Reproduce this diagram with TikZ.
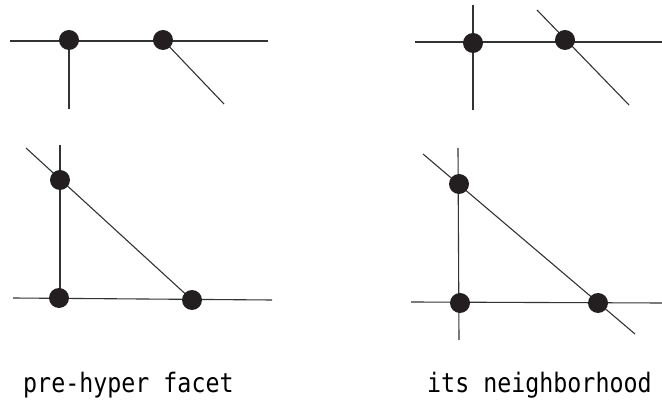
\documentclass[tikz,border=0pt]{standalone}
\usepackage{fontspec}
\newfontfamily\labelfont{DejaVu Sans Mono}
\definecolor{dotc}{HTML}{231F20}
\definecolor{linec}{HTML}{333333}
\tikzset{
  ln/.style={line width=1.1pt, draw=linec},
  dot/.style={circle, fill=dotc, inner sep=0pt, minimum size=20pt},
  lbl/.style={anchor=base west, inner sep=0pt, font=\labelfont\fontsize{23.3}{28}\selectfont}
}
\begin{document}
\begin{tikzpicture}[x=1pt,y=-1pt]
\useasboundingbox (0,0) rectangle (662,403);
% top-left
\coordinate (tlL) at (10,41); \coordinate (tlR) at (268,41);
\coordinate (tlA) at (69,40); \coordinate (tlB) at (163,40);
\coordinate (tlAd) at (69,109); \coordinate (tlBd) at (224,104);
\draw[ln] (tlL) -- (tlR);
\draw[ln] (tlA) -- (tlAd);
\draw[ln] (tlB) -- (tlBd);
\node[dot] (tla) at (tlA) {};
\node[dot] (tlb) at (tlB) {};
% top-right
\coordinate (trL) at (415,42); \coordinate (trR) at (662,42);
\coordinate (trA) at (473,43); \coordinate (trB) at (565,40);
\coordinate (trAu) at (473,5); \coordinate (trAd) at (473,110);
\coordinate (trBu) at (537,10); \coordinate (trBd) at (629,105);
\draw[ln] (trL) -- (trR);
\draw[ln] (trAu) -- (trAd);
\draw[ln] (trBu) -- (trBd);
\node[dot] (tra) at (trA) {};
\node[dot] (trb) at (trB) {};
% bottom-left
\coordinate (blVu) at (60,145); \coordinate (blVd) at (60,297);
\coordinate (blDu) at (26,148);
\coordinate (blHl) at (13,298); \coordinate (blHr) at (272,300);
\coordinate (blA) at (60,180); \coordinate (blB) at (59,298); \coordinate (blC) at (192,300);
\draw[ln] (blVu) -- (blVd);
\draw[ln] (blDu) -- (blC);
\draw[ln] (blHl) -- (blHr);
\node[dot] (bla) at (blA) {};
\node[dot] (blb) at (blB) {};
\node[dot] (blc) at (blC) {};
% bottom-right
\coordinate (brVu) at (458,148); \coordinate (brVd) at (459,340);
\coordinate (brDu) at (423,154); \coordinate (brDd) at (635,334);
\coordinate (brHl) at (411,302); \coordinate (brHr) at (662,303);
\coordinate (brA) at (459,184); \coordinate (brB) at (460,303); \coordinate (brC) at (598,303);
\draw[ln] (brVu) -- (brVd);
\draw[ln] (brDu) -- (brDd);
\draw[ln] (brHl) -- (brHr);
\node[dot] (bra) at (brA) {};
\node[dot] (brb) at (brB) {};
\node[dot] (brc) at (brC) {};
% labels
\node[lbl] (lab1) at (23,393) {\scalebox{1}[1.15]{pre-hyper facet}};
\node[lbl] (lab2) at (427,393) {\scalebox{1}[1.15]{its neighborhood}};
\end{tikzpicture}
\end{document}
